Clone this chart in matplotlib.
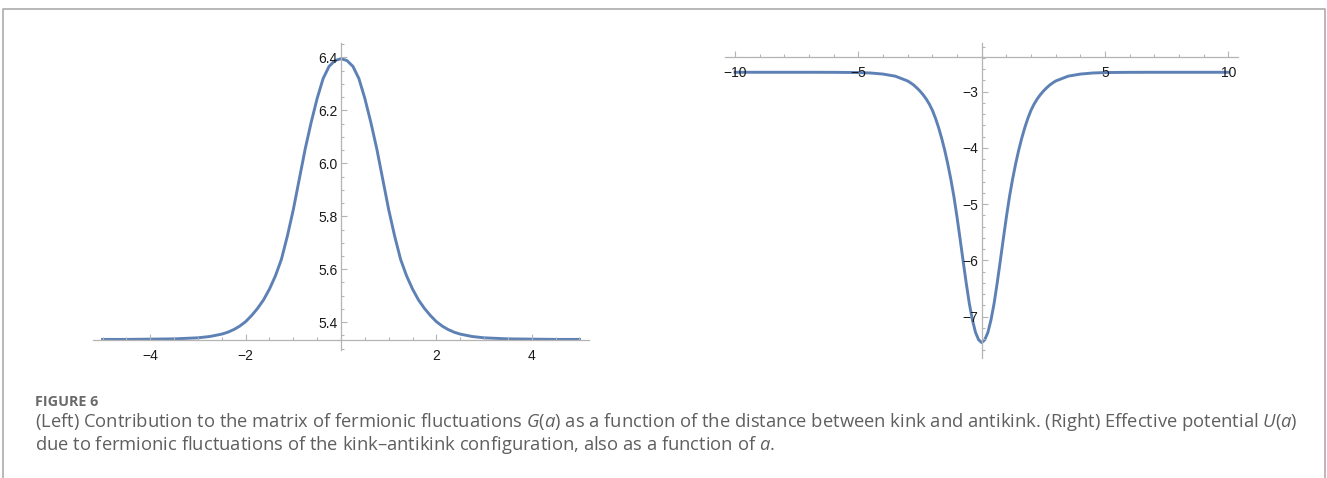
import matplotlib
matplotlib.use("Agg")
import matplotlib.pyplot as plt
from matplotlib.lines import Line2D
from matplotlib.ticker import MultipleLocator, FixedLocator

plt.rcParams['font.family'] = ['Liberation Sans', 'DejaVu Sans']
plt.rcParams['mathtext.fontset'] = 'custom'
plt.rcParams['mathtext.rm'] = 'Open Sans'
plt.rcParams['mathtext.it'] = 'Open Sans:italic'

# left panel: G(a)
a_left = [-5.0, -4.5, -4.0, -3.5, -3.0, -2.75, -2.5, -2.375, -2.25, -2.125, -2.0,
          -1.875, -1.75, -1.625, -1.5, -1.375, -1.25, -1.125, -1.0, -0.875, -0.75,
          -0.625, -0.5, -0.375, -0.25, -0.125,
          0.0,
          0.125, 0.25, 0.375, 0.5, 0.625, 0.75, 0.875, 1.0, 1.125, 1.25,
          1.375, 1.5, 1.625, 1.75, 1.875, 2.0, 2.125, 2.25, 2.375, 2.5,
          2.75, 3.0, 3.5, 4.0, 4.5, 5.0]
G_vals = [5.335, 5.335, 5.336, 5.337, 5.341, 5.346, 5.355, 5.362, 5.372, 5.385, 5.402,
          5.425, 5.452, 5.484, 5.525, 5.575, 5.637, 5.725, 5.825, 5.940, 6.055,
          6.155, 6.245, 6.320, 6.366, 6.388,
          6.395,
          6.388, 6.366, 6.320, 6.245, 6.155, 6.055, 5.940, 5.825, 5.725, 5.637,
          5.575, 5.525, 5.484, 5.452, 5.425, 5.402, 5.385, 5.372, 5.362, 5.355,
          5.346, 5.341, 5.337, 5.336, 5.335, 5.335]

# right panel: U(a)
a_right = [-10.0, -9.0, -8.0, -7.0, -6.0, -5.0, -4.5, -4.0, -3.5, -3.0, -2.875,
           -2.75, -2.625, -2.5, -2.375, -2.25, -2.125, -2.0, -1.875, -1.75, -1.625,
           -1.5, -1.375, -1.25, -1.125, -1.0, -0.875, -0.75, -0.625, -0.5, -0.375,
           -0.25, -0.125,
           0.0,
           0.125, 0.25, 0.375, 0.5, 0.625, 0.75, 0.875, 1.0, 1.125, 1.25,
           1.375, 1.5, 1.625, 1.75, 1.875, 2.0, 2.125, 2.25, 2.375, 2.5,
           2.625, 2.75, 2.875, 3.0, 3.5, 4.0, 4.5, 5.0, 6.0, 7.0, 8.0, 9.0, 10.0]
U_vals = [-2.655, -2.655, -2.655, -2.655, -2.656, -2.660, -2.668, -2.687, -2.725, -2.810, -2.845,
          -2.885, -2.935, -2.990, -3.055, -3.130, -3.220, -3.330, -3.470, -3.635, -3.825,
          -4.040, -4.285, -4.560, -4.870, -5.230, -5.620, -6.020, -6.410, -6.770, -7.060,
          -7.280, -7.410,
          -7.460,
          -7.410, -7.280, -7.060, -6.770, -6.410, -6.020, -5.620, -5.230, -4.870, -4.560,
          -4.285, -4.040, -3.825, -3.635, -3.470, -3.330, -3.220, -3.130, -3.055, -2.990,
          -2.935, -2.885, -2.845, -2.810, -2.725, -2.687, -2.668, -2.660, -2.656, -2.655,
          -2.655, -2.655, -2.655]

left_xticks = [-4, -2, 2, 4]
left_yticks = [5.4, 5.6, 5.8, 6.0, 6.2, 6.4]
right_xticks = [-10, -5, 5, 10]
right_yticks = [-7, -6, -5, -4, -3]

W, H = 1327, 478
fig = plt.figure(figsize=(W / 100, H / 100), dpi=100)
blue = '#5e81b5'
axc = '#b4b4b4'


def px_axes(l, r, t, b):
    return fig.add_axes([l / W, 1 - b / H, (r - l) / W, (b - t) / H])


def style(ax, xcross, ycross):
    for s in ['top', 'right']:
        ax.spines[s].set_visible(False)
    ax.spines['bottom'].set_position(('data', xcross))
    ax.spines['left'].set_position(('data', ycross))
    for s in ['bottom', 'left']:
        ax.spines[s].set_color(axc)
        ax.spines[s].set_linewidth(0.9)
    ax.set_axisbelow(False)
    ax.tick_params(which='both', direction='in', color=axc, width=0.8,
                   labelsize=10, labelcolor='#1a1a1a')
    ax.tick_params(which='major', length=4)
    ax.tick_params(which='minor', length=2.2)
    ax.tick_params(axis='x', pad=6.5)
    ax.tick_params(axis='y', pad=2.5)
    ax.patch.set_visible(False)


ax1 = px_axes(93, 589, 42.8, 350)
ax1.plot(a_left, G_vals, color=blue, lw=2.1, solid_joinstyle='round')
ax1.set_xlim(-5.2, 5.2)
ax1.set_ylim(5.295, 6.455)
style(ax1, 5.332, 0)
ax1.xaxis.set_major_locator(FixedLocator(left_xticks))
ax1.xaxis.set_minor_locator(MultipleLocator(0.5))
ax1.yaxis.set_major_locator(FixedLocator(left_yticks))
ax1.yaxis.set_minor_locator(MultipleLocator(0.05))
ax1.set_yticklabels(['%.1f' % v for v in left_yticks])

ax2 = px_axes(725.2, 1238.2, 43.3, 358)
ax2.plot(a_right, U_vals, color=blue, lw=2.1, solid_joinstyle='round')
ax2.set_xlim(-10.4, 10.4)
ax2.set_ylim(-7.734, -2.14)
style(ax2, -2.378, 0)
ax2.xaxis.set_major_locator(FixedLocator(right_xticks))
ax2.xaxis.set_minor_locator(MultipleLocator(1))
ax2.yaxis.set_major_locator(FixedLocator(right_yticks))
ax2.yaxis.set_minor_locator(MultipleLocator(0.2))

# frame around the figure (open at the bottom)
bx = [3.5 / W, 3.5 / W, 1325 / W, 1325 / W]
by = [0, 1 - 8.5 / H, 1 - 8.5 / H, 0]
fig.add_artist(Line2D(bx, by, transform=fig.transFigure, color='#ababab', lw=1.2))

cap = '#5f5f5f'
fig.text(35 / W, 1 - 406 / H, 'FIGURE 6', fontsize=10.4, fontweight='bold',
         family='Open Sans', color='#6a6a6a', va='baseline')
line1 = ('(Left) Contribution to the matrix of fermionic fluctuations $G$($a$) as a function '
         'of the distance between kink and antikink. (Right) Effective potential $U$($a$)')
line2 = 'due to fermionic fluctuations of the kink\u2013antikink configuration, also as a function of $a$.'
fig.text(35 / W, 1 - 426.7 / H, line1, fontsize=13.2, family='Open Sans', color=cap, va='baseline')
fig.text(35 / W, 1 - 450 / H, line2, fontsize=13.2, family='Open Sans', color=cap, va='baseline')

fig.savefig('out.png', dpi=100)
